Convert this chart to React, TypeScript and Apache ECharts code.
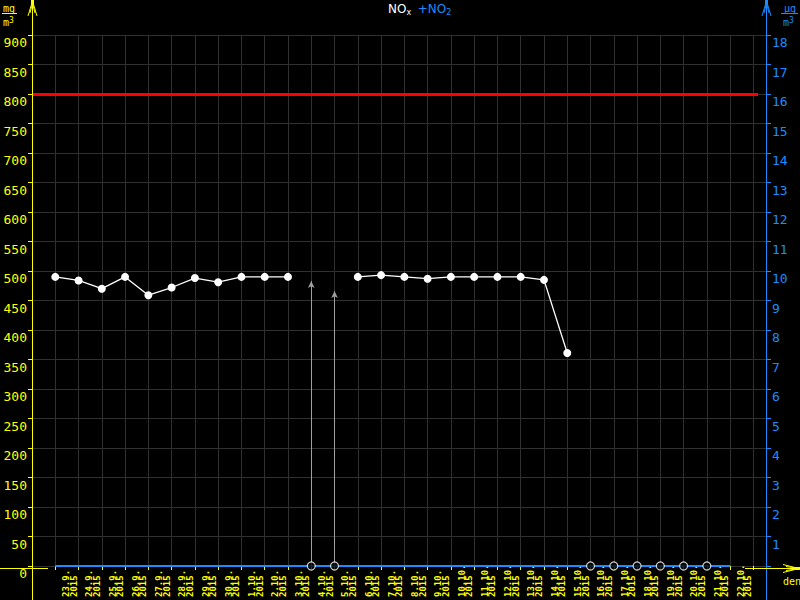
import React, { useEffect, useRef } from "react";
import * as echarts from "echarts";

const DATES = [
  "23.9.", "24.9.", "25.9.", "26.9.", "27.9.", "28.9.", "29.9.", "30.9.",
  "1.10.", "2.10.", "3.10.", "4.10.", "5.10.", "6.10.", "7.10.", "8.10.",
  "9.10.", "10.10.", "11.10.", "12.10.", "13.10.", "14.10.", "15.10.",
  "16.10.", "17.10.", "18.10.", "19.10.", "20.10.", "21.10.", "22.10.",
];
const YEAR = "2015";
const NOX: (number | null)[] = [
  490, 484, 470, 490, 459, 472, 488, 481,
  490, 490, 490, null, null, 490, 493, 490,
  487, 490, 490, 490, 490, 485, 361,
  null, null, null, null, null, null, null,
];
const NO2: number[] = [
  0, 0, 0, 0, 0, 0, 0, 0, 0, 0, 0, 0, 0, 0, 0, 0, 0, 0, 0, 0, 0, 0, 0, 0, 0, 0, 0, 0, 0, 0,
];
const MISSING_DAYS = ["4.10.", "5.10.", "16.10.", "17.10.", "18.10.", "19.10.", "20.10.", "21.10."];
const OUT_OF_RANGE: { day: string; value: number }[] = [
  { day: "4.10.", value: 483 },
  { day: "5.10.", value: 466 },
];
const LIMIT = 800;
const LEFT_MAX = 900;
const LEFT_STEP = 50;
const RIGHT_MAX = 18;
const RIGHT_STEP = 1;

const YELLOW = "#ffff00";
const BLUE = "#1a8cff";
const GRID = "#303030";
const MONO = "DejaVu Sans Mono";

export default function App() {
  const ref = useRef<HTMLDivElement>(null);
  useEffect(() => {
    if (!ref.current) return;
    const chart = echarts.init(ref.current, null, { renderer: "svg" });
    const idx = (d: string) => DATES.indexOf(d);
    const noxData = NOX.map((v, i) => [i, v]);
    const no2Data = NO2.map((v, i) => [i, v]);
    const missData = MISSING_DAYS.map((d) => [idx(d), 0]);
    const arrows = OUT_OF_RANGE.map((o) => [
      { coord: [idx(o.day), 0] },
      { coord: [idx(o.day), o.value] },
    ]);

    const lineEl = (x1: number, y1: number, x2: number, y2: number, color: string, z = 50) => ({
      type: "line",
      shape: { x1, y1, x2, y2 },
      style: { stroke: color, lineWidth: 1 },
      z,
    });
    const poly = (pts: number[][], color: string) => ({
      type: "polyline",
      shape: { points: pts },
      style: { stroke: color, lineWidth: 1, fill: null },
      z: 50,
    });
    const unitFont = "10px " + MONO;
    const supFont = "8px " + MONO;

    chart.setOption({
      animation: false,
      backgroundColor: "#000",
      grid: { left: 32, right: 34, top: 35, bottom: 32, containLabel: false },
      xAxis: {
        type: "value",
        min: -1,
        max: 30.54,
        interval: 1,
        axisLine: { show: false, onZero: false },
        axisTick: { show: true, length: 4, lineStyle: { color: YELLOW } },
        splitLine: { show: true, lineStyle: { color: GRID, width: 1 } },
        axisLabel: {
          show: true,
          rotate: 90,
          margin: 31,
          align: "left",
          verticalAlign: "top",
          padding: [7, 0, 0, 0],
          fontSize: 9,
          fontWeight: "bold",
          fontFamily: MONO,
          lineHeight: 7.5,
          color: YELLOW,
          showMinLabel: true,
          showMaxLabel: true,
          formatter: (v: number) => {
            if (Math.abs(v - Math.round(v)) > 1e-6) return "";
            const d = DATES[Math.round(v)];
            return d ? d + "\n" + YEAR : "";
          },
        },
      },
      yAxis: [
        {
          type: "value",
          min: 0,
          max: LEFT_MAX,
          interval: LEFT_STEP,
          position: "left",
          axisLine: { show: true, onZero: false, lineStyle: { color: YELLOW, width: 1 } },
          axisTick: { show: true, length: 4, lineStyle: { color: YELLOW } },
          splitLine: { show: true, lineStyle: { color: GRID, width: 1 } },
          axisLabel: {
            color: YELLOW,
            fontSize: 13,
            fontFamily: MONO,
            margin: 5,
            verticalAlign: "top",
            padding: [1, 0, 0, 0],
          },
        },
        {
          type: "value",
          min: 0,
          max: RIGHT_MAX,
          interval: RIGHT_STEP,
          position: "right",
          axisLine: { show: true, onZero: false, lineStyle: { color: BLUE, width: 1 } },
          axisTick: { show: true, length: 5, lineStyle: { color: BLUE } },
          splitLine: { show: false },
          axisLabel: {
            color: BLUE,
            fontSize: 13,
            fontFamily: MONO,
            margin: 6,
            verticalAlign: "top",
            padding: [1, 0, 0, 0],
            formatter: (v: number) => (v === 0 ? "" : String(v)),
          },
        },
      ],
      series: [
        {
          name: "NO2",
          type: "line",
          yAxisIndex: 1,
          data: no2Data,
          showSymbol: false,
          symbol: "none",
          lineStyle: { color: BLUE, width: 2 },
          z: 3,
          markLine: {
            silent: true,
            symbol: ["none", "none"],
            label: { show: false },
            lineStyle: { color: "#ff0000", width: 3, type: "solid" },
            data: [[{ coord: [-1, LIMIT / LEFT_STEP] }, { coord: [30.2, LIMIT / LEFT_STEP] }]],
          },
        },
        {
          name: "arrows",
          type: "line",
          data: [],
          markLine: {
            silent: true,
            symbol: ["none", "arrow"],
            symbolSize: [5, 7],
            label: { show: false },
            lineStyle: { color: "#a0a0a0", width: 1, type: "solid" },
            data: arrows,
          },
          z: 4,
        },
        {
          name: "missing",
          type: "scatter",
          data: missData,
          symbol: "circle",
          symbolSize: 8,
          itemStyle: { color: "#000", borderColor: "#fff", borderWidth: 1.2 },
          z: 6,
        },
        {
          name: "NOx",
          type: "line",
          data: noxData,
          connectNulls: false,
          symbol: "circle",
          symbolSize: 8,
          showSymbol: true,
          itemStyle: { color: "#fff", borderColor: "#fff", borderWidth: 0 },
          lineStyle: { color: "#fff", width: 1.3 },
          z: 7,
        },
      ],
      graphic: [
        lineEl(32.5, 2, 32.5, 600, YELLOW),
        lineEl(766.5, 2, 766.5, 600, BLUE),
        lineEl(0, 568.5, 48, 568.5, YELLOW),
        lineEl(745, 568.5, 796, 568.5, YELLOW),
        // top arrows
        poly([[28, 16], [32.5, 1], [37, 16]], YELLOW),
        poly([[30, 13], [32.5, 3], [35, 13]], YELLOW),
        { type: "rect", shape: { x: 31, y: 0, width: 3, height: 5 }, style: { fill: YELLOW }, z: 50 },
        poly([[762, 16], [766.5, 1], [771, 16]], BLUE),
        poly([[764, 13], [766.5, 3], [769, 13]], BLUE),
        { type: "rect", shape: { x: 765, y: 0, width: 3, height: 5 }, style: { fill: BLUE }, z: 50 },
        // right arrow on x axis
        poly([[783, 564.5], [799, 568.5], [783, 572.5]], YELLOW),
        poly([[786, 566.5], [799, 568.5], [786, 570.5]], YELLOW),
        { type: "rect", shape: { x: 794, y: 567, width: 6, height: 3 }, style: { fill: YELLOW }, z: 50 },
        {
          type: "text",
          x: 783,
          y: 576,
          style: { text: "den", fill: YELLOW, font: unitFont },
          z: 50,
        },
        // units left
        { type: "text", x: 3, y: 3, style: { text: "mg", fill: YELLOW, font: unitFont }, z: 50 },
        lineEl(2, 13.5, 17, 13.5, YELLOW),
        {
          type: "text",
          x: 3,
          y: 14,
          style: {
            text: "{m|m}{s|3}",
            rich: {
              m: { fill: YELLOW, font: unitFont, padding: [3, 0, 0, 0] },
              s: { fill: YELLOW, font: supFont },
            },
          },
          z: 50,
        },
        // units right
        { type: "text", x: 784, y: 3, style: { text: "µg", fill: BLUE, font: unitFont }, z: 50 },
        lineEl(781, 13.5, 798, 13.5, BLUE),
        {
          type: "text",
          x: 783,
          y: 14,
          style: {
            text: "{m|m}{s|3}",
            rich: {
              m: { fill: BLUE, font: unitFont, padding: [3, 0, 0, 0] },
              s: { fill: BLUE, font: supFont },
            },
          },
          z: 50,
        },
        // title
        {
          type: "text",
          x: 388,
          y: 2,
          style: {
            text: "{a|NO}{as|x}  {b|+NO}{bs|2}",
            rich: {
              a: { fill: "#fff", font: "12px 'DejaVu Sans'" },
              as: { fill: "#fff", font: "8px 'DejaVu Sans'", padding: [6, 0, 0, 0] },
              b: { fill: BLUE, font: "12px 'DejaVu Sans'" },
              bs: { fill: BLUE, font: "8px 'DejaVu Sans'", padding: [6, 0, 0, 0] },
            },
          },
          z: 50,
        },
      ],
    });
    return () => chart.dispose();
  }, []);
  return (
    <div
      ref={ref}
      style={{ position: "fixed", left: 0, top: 0, width: 800, height: 600, background: "#000" }}
    />
  );
}
